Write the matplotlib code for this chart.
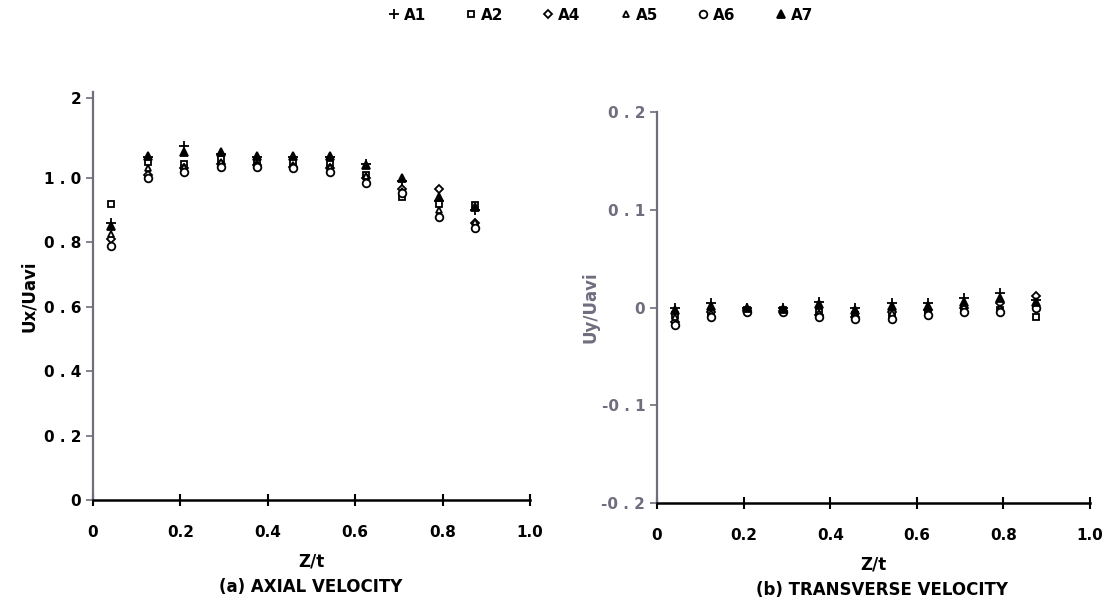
import numpy as np
import matplotlib
matplotlib.use("Agg")
import matplotlib.pyplot as plt

plt.rcParams["font.family"] = ["DejaVu Sans"]
plt.rcParams["font.weight"] = "bold"
plt.rcParams["axes.labelweight"] = "bold"

# Z/t stations (same for both panels)
z = [0.042, 0.125, 0.208, 0.292, 0.375, 0.458, 0.542, 0.625, 0.708, 0.792, 0.875]

series = ["A1", "A2", "A4", "A5", "A6", "A7"]

# (a) axial velocity Ux/Uavi
ux = {
    "A1": [0.86, 1.065, 1.10, 1.075, 1.065, 1.065, 1.065, 1.045, 0.99, 0.93, 0.90],
    "A2": [0.92, 1.05, 1.045, 1.06, 1.05, 1.05, 1.045, 1.01, 0.94, 0.92, 0.915],
    "A4": [0.81, 1.01, 1.03, 1.045, 1.04, 1.035, 1.03, 1.00, 0.965, 0.965, 0.86],
    "A5": [0.825, 1.03, 1.035, 1.05, 1.045, 1.04, 1.035, 1.005, 0.96, 0.90, 0.865],
    "A6": [0.79, 1.00, 1.02, 1.035, 1.035, 1.03, 1.02, 0.985, 0.955, 0.88, 0.845],
    "A7": [0.85, 1.07, 1.08, 1.08, 1.07, 1.07, 1.07, 1.04, 1.00, 0.94, 0.91],
}

# (b) transverse velocity Uy/Uavi
uy = {
    "A1": [0.0, 0.005, 0.0, 0.0, 0.006, 0.0, 0.005, 0.005, 0.01, 0.015, 0.008],
    "A2": [-0.008, -0.008, -0.003, -0.003, -0.005, -0.008, -0.008, -0.005, -0.002, -0.003, -0.01],
    "A4": [-0.015, -0.005, -0.002, -0.004, -0.008, -0.01, -0.005, -0.002, 0.0, 0.005, 0.012],
    "A5": [-0.01, -0.006, -0.004, -0.002, -0.006, -0.006, -0.006, -0.003, 0.002, 0.0, 0.005],
    "A6": [-0.018, -0.01, -0.005, -0.005, -0.01, -0.012, -0.012, -0.008, -0.005, -0.005, 0.0],
    "A7": [-0.002, 0.002, 0.0, -0.001, 0.004, -0.002, 0.002, 0.002, 0.006, 0.01, 0.006],
}

markers = {"A1": "+", "A2": "s", "A4": "D", "A5": "^", "A6": "o", "A7": "^"}
filled = {"A1": True, "A2": False, "A4": False, "A5": False, "A6": False, "A7": True}
sizes = {"A1": 7, "A2": 4.5, "A4": 4.5, "A5": 5, "A6": 5.5, "A7": 6}

gray = "#6e6e7e"

fig = plt.figure(figsize=(11.02, 6.07), dpi=100)
ax1 = fig.add_axes([0.0844, 0.1763, 0.3966, 0.672])
ax2 = fig.add_axes([0.5962, 0.1713, 0.393, 0.644])

handles = []
for name in series:
    for ax, data in ((ax1, ux), (ax2, uy)):
        (h,) = ax.plot(
            z,
            data[name],
            linestyle="none",
            marker=markers[name],
            markersize=sizes[name],
            markeredgecolor="black",
            markerfacecolor="black" if filled[name] else "white",
            markeredgewidth=1.3,
            label=name,
        )
    handles.append(h)

for ax in (ax1, ax2):
    ax.spines["top"].set_visible(False)
    ax.spines["right"].set_visible(False)
    ax.spines["left"].set_color(gray)
    ax.spines["left"].set_linewidth(1.6)
    ax.spines["bottom"].set_color("black")
    ax.spines["bottom"].set_linewidth(1.8)
    ax.set_xlim(0, 1.0)
    ax.set_xticks([0, 0.2, 0.4, 0.6, 0.8, 1.0])
    ax.set_xticklabels(["0", "0.2", "0.4", "0.6", "0.8", "1.0"], fontsize=11)
    ax.tick_params(axis="x", direction="inout", length=8, width=1.5, pad=14)
    ax.tick_params(axis="y", direction="out", length=5, width=1.2, color=gray)
    ax.set_xlabel("Z/t", fontsize=12, labelpad=9)

ax1.set_ylim(0, 1.267)
ax1.set_yticks([0, 0.2, 0.4, 0.6, 0.8, 1.0, 1.25])
ax1.set_yticklabels(["0", "0 . 2", "0 . 4", "0 . 6", "0 . 8", "1 . 0", "2"], fontsize=11)
ax1.set_ylabel("Ux/Uavi", fontsize=12, labelpad=4)

ax2.set_ylim(-0.2, 0.2)
ax2.set_yticks([-0.2, -0.1, 0, 0.1, 0.2])
ax2.set_yticklabels(["-0 . 2", "-0 . 1", "0", "0 . 1", "0 . 2"], fontsize=11, color=gray)
ax2.set_ylabel("Uy/Uavi", fontsize=12, color=gray, labelpad=1)

fig.text(0.282, 0.025, "(a) AXIAL VELOCITY", ha="center", fontsize=12)
fig.text(0.80, 0.02, "(b) TRANSVERSE VELOCITY", ha="center", fontsize=12)

fig.legend(
    handles,
    series,
    loc="upper center",
    bbox_to_anchor=(0.545, 1.01),
    ncol=6,
    frameon=False,
    fontsize=11,
    markerscale=1.0,
    handlelength=0.7,
    handletextpad=0.3,
    columnspacing=2.6,
)

fig.savefig("out.png", dpi=100)
